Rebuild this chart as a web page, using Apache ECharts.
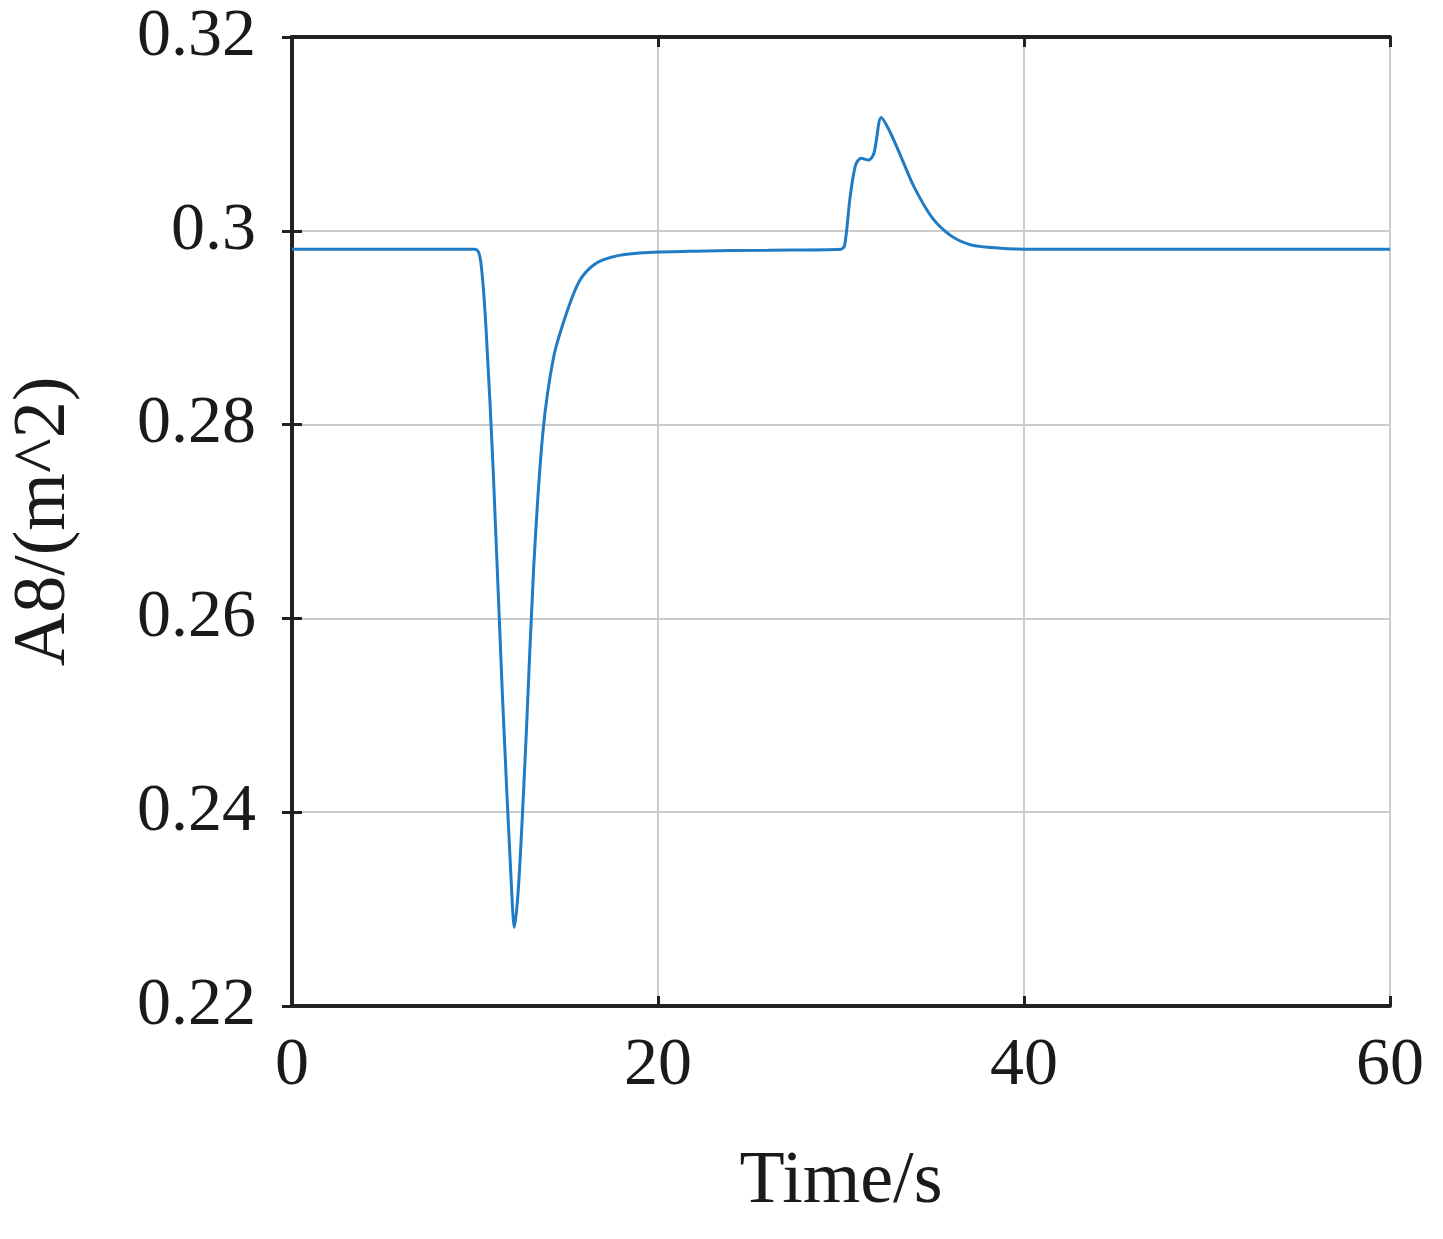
<!DOCTYPE html>
<html><head><meta charset="utf-8">
<script src="https://cdn.jsdelivr.net/npm/echarts@6/dist/echarts.min.js"></script>
<style>html,body{margin:0;background:#fff}#c{width:1443px;height:1239px}</style>
</head><body><div id="c"></div>
<script>
const times = [0,10,10.3,10.6,11,11.5,12,12.15,12.4,12.8,13.2,13.7,14.3,15,15.7,16.5,17.5,19,22,26,30,30.2,30.5,30.8,31.1,31.5,31.8,32.2,32.6,33.2,34,35,36,37,38,40,60];
const values = [0.2981,0.2981,0.297,0.29,0.275,0.252,0.232,0.2281,0.233,0.248,0.265,0.279,0.287,0.2915,0.2948,0.2965,0.2973,0.2977,0.2979,0.298,0.2981,0.2985,0.3035,0.3068,0.3075,0.3073,0.308,0.3117,0.3105,0.308,0.3045,0.3013,0.2995,0.2986,0.2983,0.2981,0.2981];
const xTicks = [0,20,40,60];
const yTicks = [0.22,0.24,0.26,0.28,0.3,0.32];
const font = 'Liberation Serif';
const chart = echarts.init(document.getElementById('c'));
const axLine = {show:true,lineStyle:{color:'#222',width:4}};
const tick = {show:true,inside:true,length:10,lineStyle:{color:'#222',width:3}};
chart.setOption({
  animation:false,
  grid:{left:288,right:53,top:37,bottom:233,containLabel:false},
  xAxis:[{type:'value',min:0,max:60,interval:20,axisLine:axLine,axisTick:tick,
    axisLabel:{fontFamily:font,fontSize:68,color:'#1a1a1a',margin:26,formatter:v=>xTicks.includes(v)?String(v):''},
    splitLine:{show:true,lineStyle:{color:'#cccccc',width:2}},
    name:'Time/s',nameLocation:'middle',nameGap:140,nameTextStyle:{fontFamily:font,fontSize:74,color:'#1a1a1a'}},
    {type:'value',position:'top',min:0,max:60,interval:20,axisLine:axLine,axisTick:tick,axisLabel:{show:false},splitLine:{show:false}}],
  yAxis:[{type:'value',min:0.22,max:0.32,interval:0.02,axisLine:axLine,axisTick:tick,
    axisLabel:{fontFamily:font,fontSize:68,color:'#1a1a1a',margin:36,formatter:v=>{const r=Math.round(v*100)/100;return String(r);}},
    splitLine:{show:true,lineStyle:{color:'#cccccc',width:2}},
    name:'A8/(m^2)',nameLocation:'middle',nameGap:210,nameRotate:90,nameTextStyle:{fontFamily:font,fontSize:74,color:'#1a1a1a'}},
    {type:'value',position:'right',min:0.22,max:0.32,interval:0.02,axisLine:axLine,axisTick:tick,axisLabel:{show:false},splitLine:{show:false}}],
  series:[{type:'line',data:times.map((t,i)=>[t,values[i]]),showSymbol:false,smooth:0.3,
    lineStyle:{color:'#1f7bc4',width:3}}]
});
</script></body></html>
